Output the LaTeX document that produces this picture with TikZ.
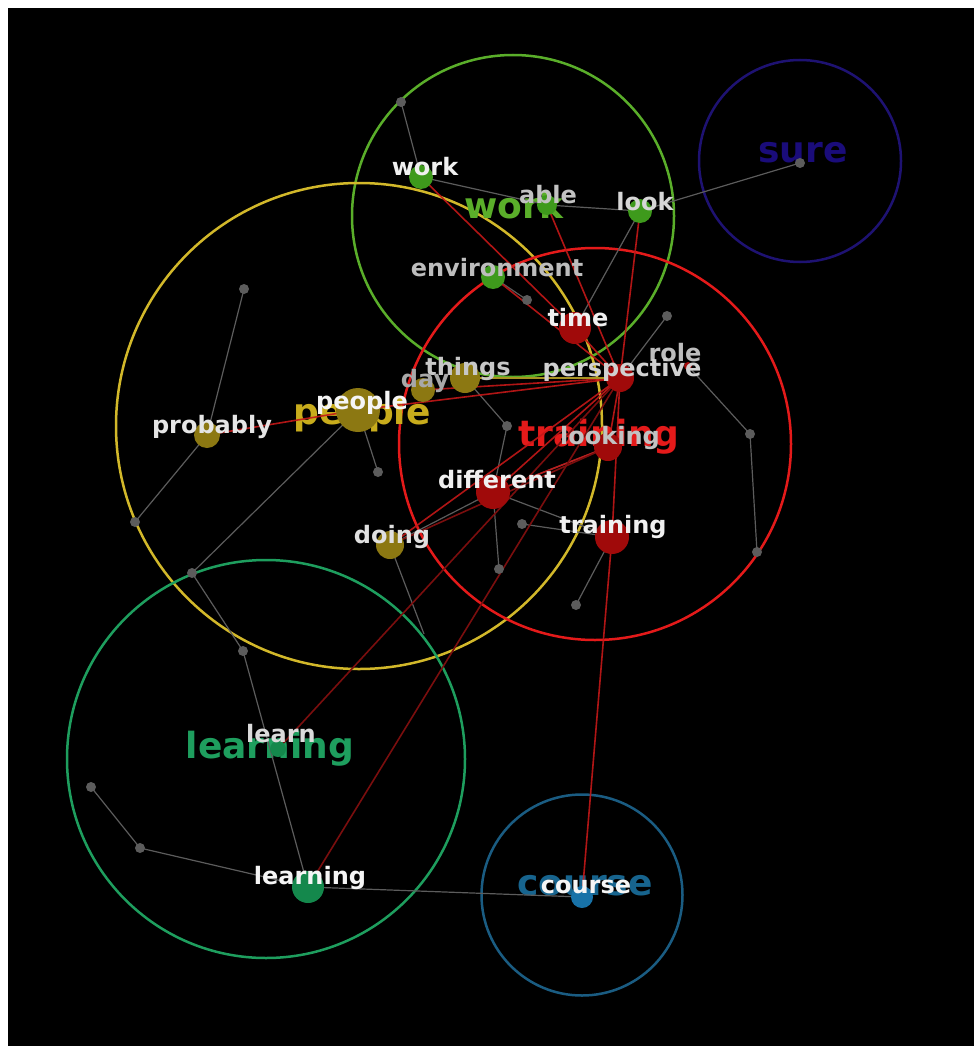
\documentclass[tikz,border=0pt]{standalone}
\usepackage{fontspec}
\setmainfont{DejaVu Sans}
\pgfdeclarelayer{back}
\pgfdeclarelayer{edges}
\pgfsetlayers{back,edges,main}
\definecolor{cwork}{HTML}{5AAE2A}
\definecolor{cworkdot}{HTML}{3E9A1C}
\definecolor{cpeople}{HTML}{D2B82A}
\definecolor{cpeopletxt}{HTML}{C8AC1C}
\definecolor{cpeopledot}{HTML}{8C7812}
\definecolor{ctrain}{HTML}{E41A1A}
\definecolor{ctraindot}{HTML}{A00A0A}
\definecolor{clearn}{HTML}{1E9E5E}
\definecolor{clearndot}{HTML}{14884C}
\definecolor{ccourse}{HTML}{1A5C82}
\definecolor{ccoursetxt}{HTML}{17648E}
\definecolor{ccoursedot}{HTML}{1872A8}
\definecolor{csure}{HTML}{1E1272}
\definecolor{csuretxt}{HTML}{1A0C7A}
\definecolor{cgrey}{HTML}{5C5C5C}
\definecolor{ctie}{HTML}{C41818}
\definecolor{cdarktie}{HTML}{7A0E0E}
\tikzset{
  ring/.style={circle, draw=#1, line width=2.5pt, inner sep=0pt},
  hub/.style={text=#1, font=\bfseries\fontsize{36}{36}\selectfont, anchor=base, inner sep=0pt},
  term/.style={circle, fill=#1, inner sep=0pt},
  knot/.style={circle, fill=cgrey, inner sep=0pt, minimum size=10pt},
  tag/.style={text=#1, font=\bfseries\fontsize{24}{24}\selectfont, anchor=base, inner sep=0pt},
  link/.style={draw=cgrey, line width=1.2pt},
  tie/.style={draw=ctie, line width=1.6pt, opacity=0.9},
  darktie/.style={draw=cdarktie, line width=1.6pt},
  olivetie/.style={draw=cpeople!80!black, line width=1.6pt}
}
\begin{document}
\begin{tikzpicture}[x=1pt,y=-1pt]
\useasboundingbox (0,0) rectangle (974,1046);

\begin{pgfonlayer}{back}
  \fill[white] (0,0) rectangle (974,1046);
  \fill[black] (8,8) rectangle (974,1046);
  % cluster rings
  \node[ring=cwork,   minimum size=322pt] (rwork)   at (513,216) {};
  \node[ring=csure,   minimum size=202pt] (rsure)   at (800,161) {};
  \node[ring=cpeople, minimum size=486pt] (rpeople) at (359,426) {};
  \node[ring=ctrain,  minimum size=392pt] (rtrain)  at (595,444) {};
  \node[ring=clearn,  minimum size=398pt] (rlearn)  at (266,759) {};
  \node[ring=ccourse, minimum size=201pt] (rcourse) at (582,895) {};
  % cluster titles
  \node[hub=cwork]      (hwork)   at (514,218) {work};
  \node[hub=csuretxt]   (hsure)   at (803,162) {sure};
  \node[hub=cpeopletxt] (hpeople) at (362,424) {people};
  \node[hub=ctrain]     (htrain)  at (599,446) {training};
  \node[hub=clearn]     (hlearn)  at (270,758) {learning};
  \node[hub=ccoursetxt] (hcourse) at (585,895) {course};
\end{pgfonlayer}

% term dots
\node[term=cworkdot, minimum size=24pt] (work) at (421,177) {};
\node[term=cworkdot, minimum size=20pt] (able) at (547,205) {};
\node[term=cworkdot, minimum size=24pt] (look) at (640,211) {};
\node[term=cworkdot, minimum size=24pt] (environment) at (493,277) {};
\node[term=ctraindot, minimum size=32pt] (time) at (575,328) {};
\node[term=ctraindot, minimum size=28pt] (perspective) at (620,378) {};
\node[term=ctraindot, minimum size=8pt] (role) at (688,366) {};
\node[term=cpeopledot, minimum size=30pt] (things) at (465,378) {};
\node[term=cpeopledot, minimum size=24pt] (day) at (423,390) {};
\node[term=cpeopledot, minimum size=44pt] (people) at (358,410) {};
\node[term=cpeopledot, minimum size=26pt] (probably) at (207,435) {};
\node[term=ctraindot, minimum size=28pt] (looking) at (608,447) {};
\node[term=ctraindot, minimum size=34pt] (different) at (493,492) {};
\node[term=ctraindot, minimum size=34pt] (training) at (612,537) {};
\node[term=cpeopledot, minimum size=28pt] (doing) at (390,545) {};
\node[term=clearndot, minimum size=16pt] (learn) at (278,749) {};
\node[term=clearndot, minimum size=32pt] (learning) at (308,887) {};
\node[term=ccoursedot, minimum size=22pt] (course) at (582,897) {};

% small grey satellite dots
\node[knot] (g1) at (401,102) {};
\node[knot] (g2) at (244,289) {};
\node[knot] (g3) at (527,300) {};
\node[knot] (g4) at (667,316) {};
\node[knot] (g5) at (507,426) {};
\node[knot] (g6) at (378,472) {};
\node[knot] (g7) at (135,522) {};
\node[knot] (g8) at (192,573) {};
\node[knot] (g9) at (243,651) {};
\node[knot] (g10) at (91,787) {};
\node[knot] (g11) at (140,848) {};
\node[knot] (g12) at (522,524) {};
\node[knot] (g13) at (499,569) {};
\node[knot] (g14) at (576,605) {};
\node[knot] (g15) at (750,434) {};
\node[knot] (g16) at (757,552) {};
\node[knot] (gsure) at (800,163) {};
\coordinate (gdoing) at (424,634);

\begin{pgfonlayer}{edges}
  % grey links
  \draw[link] (work.center) -- (g1.center);
  \draw[link] (work.center) -- (able.center) -- (look.center);
  \draw[link] (look.center) -- (gsure.center);
  \draw[link] (look.center) -- (time.center);
  \draw[link] (environment.center) -- (g3.center);
  \draw[link] (things.center) -- (g5.center) -- (different.center);
  \draw[link] (people.center) -- (g6.center);
  \draw[link] (people.center) -- (g8.center) -- (g9.center) -- (learning.center);
  \draw[link] (probably.center) -- (g2.center);
  \draw[link] (probably.center) -- (g7.center);
  \draw[link] (g10.center) -- (g11.center) -- (learning.center);
  \draw[link] (learning.center) -- (course.center);
  \draw[link] (different.center) -- (doing.center);
  \draw[link] (different.center) -- (training.center);
  \draw[link] (g12.center) -- (training.center);
  \draw[link] (different.center) -- (g13.center);
  \draw[link] (training.center) -- (g14.center);
  \draw[link] (looking.center) -- (different.center);
  \draw[link] (g4.center) -- (perspective.center);
  \draw[link] (role.center) -- (g15.center) -- (g16.center);
  \draw[link] (doing.center) -- (gdoing);
  % red ties
  \draw[tie] (work.center) -- (time.center);
  \draw[tie] (environment.center) -- (perspective.center);
  \draw[tie] (able.center) -- (perspective.center);
  \draw[tie] (look.center) -- (perspective.center);
  \draw[tie] (time.center) -- (perspective.center);
  \draw[tie] (people.center) -- (perspective.center);
  \draw[tie] (day.center) -- (perspective.center);
  \draw[tie] (different.center) -- (perspective.center);
  \draw[tie] (different.center) -- (looking.center);
  \draw[tie] (training.center) -- (perspective.center);
  \draw[tie] (training.center) -- (course.center);
  \draw[tie] (probably.center) -- (people.center);
  \draw[tie] (looking.center) -- (perspective.center);
  \draw[tie] (doing.center) -- (perspective.center);
  \draw[darktie] (learn.center) -- (perspective.center);
  \draw[darktie] (learning.center) -- (perspective.center);
  \draw[darktie] (doing.center) -- (looking.center);
  \draw[olivetie] (things.center) -- (perspective.center);
\end{pgfonlayer}

% term labels
\node[tag=white!94!black] (twork) at (425,175) {work};
\node[tag=white!76!black] (table) at (548,203) {able};
\node[tag=white!84!black] (tlook) at (645,210) {look};
\node[tag=white!74!black] (tenvironment) at (497,276) {environment};
\node[tag=white!94!black] (ttime) at (578,326) {time};
\node[tag=white!74!black] (trole) at (675,361) {role};
\node[tag=white!78!black] (tthings) at (468,375) {things};
\node[tag=white!82!black] (tperspective) at (622,376) {perspective};
\node[tag=white!66!black] (tday) at (425,387) {day};
\node[tag=white!96!black] (tpeople) at (362,409) {people};
\node[tag=white!90!black] (tprobably) at (212,433) {probably};
\node[tag=white!76!black] (tlooking) at (610,444) {looking};
\node[tag=white!94!black] (tdifferent) at (497,488) {different};
\node[tag=white!94!black] (ttraining) at (613,533) {training};
\node[tag=white!88!black] (tdoing) at (392,543) {doing};
\node[tag=white!86!black] (tlearn) at (281,742) {learn};
\node[tag=white!96!black] (tlearning) at (310,884) {learning};
\node[tag=white!96!black] (tcourse) at (586,893) {course};
\end{tikzpicture}
\end{document}
